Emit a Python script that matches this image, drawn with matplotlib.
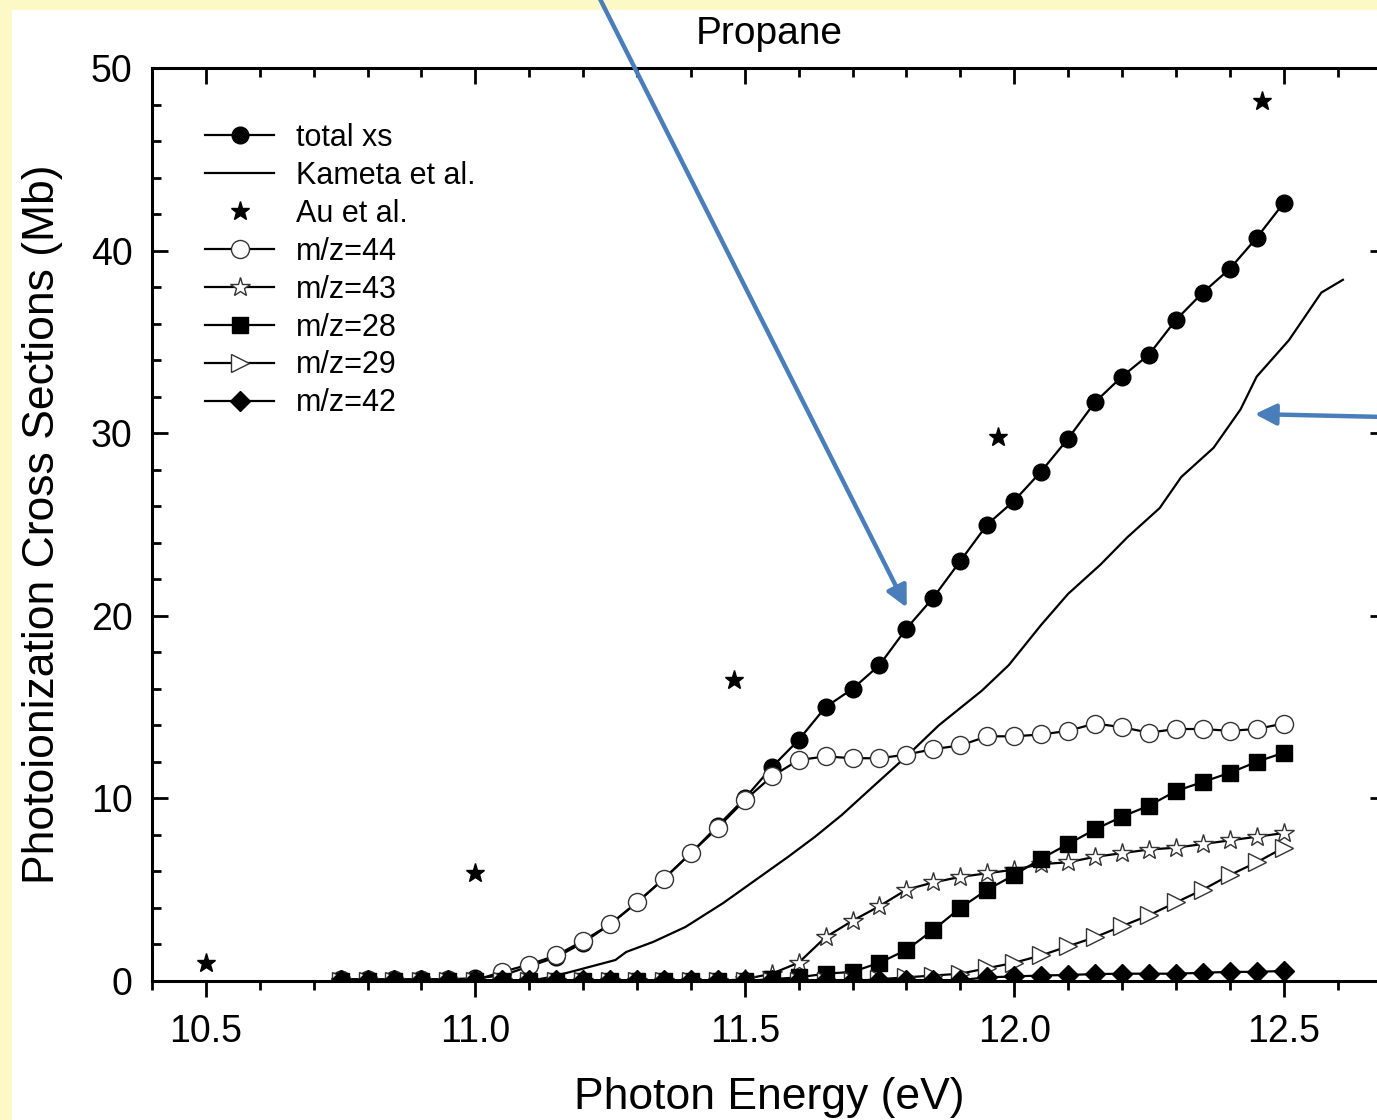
import numpy as np
import matplotlib.pyplot as plt
from matplotlib.patches import Rectangle
from matplotlib.ticker import MultipleLocator

plt.rcParams['font.family'] = ['Liberation Sans', 'DejaVu Sans']

# photon energy grid of the mass-resolved data (eV)
energy = [10.75, 10.80, 10.85, 10.90, 10.95, 11.00, 11.05, 11.10, 11.15, 11.20,
          11.25, 11.30, 11.35, 11.40, 11.45, 11.50, 11.55, 11.60, 11.65, 11.70,
          11.75, 11.80, 11.85, 11.90, 11.95, 12.00, 12.05, 12.10, 12.15, 12.20,
          12.25, 12.30, 12.35, 12.40, 12.45, 12.50]

total_xs = [0.1, 0.1, 0.1, 0.1, 0.1, 0.15, 0.3, 0.8, 1.3, 2.1,
            3.1, 4.3, 5.6, 7.0, 8.5, 10.0, 11.7, 13.2, 15.0, 16.0,
            17.3, 19.3, 21.0, 23.0, 25.0, 26.3, 27.9, 29.7, 31.7, 33.1,
            34.3, 36.2, 37.7, 39.0, 40.7, 42.6]

mz44 = [0.05, 0.05, 0.05, 0.05, 0.05, 0.05, 0.5, 0.9, 1.4, 2.2,
        3.1, 4.3, 5.6, 7.0, 8.4, 9.9, 11.2, 12.1, 12.3, 12.2,
        12.2, 12.4, 12.7, 12.9, 13.4, 13.4, 13.5, 13.7, 14.1, 13.9,
        13.6, 13.8, 13.8, 13.7, 13.8, 14.1]

mz43 = [0, 0, 0, 0, 0, 0, 0, 0, 0, 0,
        0, 0, 0, 0, 0, 0.1, 0.4, 1.0, 2.4, 3.3,
        4.1, 5.0, 5.4, 5.7, 5.9, 6.1, 6.4, 6.5, 6.8, 7.0,
        7.2, 7.3, 7.5, 7.7, 7.9, 8.1]

mz28 = [0, 0, 0, 0, 0, 0, 0, 0, 0, 0,
        0, 0, 0, 0, 0, 0, 0.1, 0.2, 0.4, 0.5,
        1.0, 1.7, 2.8, 4.0, 5.0, 5.8, 6.7, 7.5, 8.3, 9.0,
        9.6, 10.4, 10.9, 11.4, 12.0, 12.5]

mz29 = [0, 0, 0, 0, 0, 0, 0, 0, 0, 0,
        0, 0, 0, 0, 0, 0, 0, 0, 0, 0,
        0.1, 0.2, 0.3, 0.4, 0.7, 1.0, 1.4, 1.9, 2.4, 3.0,
        3.6, 4.3, 5.0, 5.8, 6.5, 7.3]

mz42 = [0.05, 0.05, 0.05, 0.05, 0.05, 0.05, 0.05, 0.05, 0.05, 0.05,
        0.05, 0.05, 0.05, 0.05, 0.05, 0.05, 0.05, 0.05, 0.05, 0.05,
        0.05, 0.05, 0.05, 0.05, 0.2, 0.25, 0.3, 0.33, 0.38, 0.4,
        0.4, 0.4, 0.45, 0.5, 0.5, 0.55]

# Kameta et al. curve
kameta_e = [11.10, 11.14, 11.19, 11.26, 11.28, 11.33, 11.39, 11.46, 11.52, 11.58,
            11.63, 11.68, 11.74, 11.80, 11.86, 11.94, 11.99, 12.05, 12.10, 12.16,
            12.21, 12.27, 12.31, 12.37, 12.42, 12.45, 12.51, 12.57, 12.61]
kameta_xs = [0.0, 0.22, 0.6, 1.15, 1.59, 2.14, 2.96, 4.27, 5.53, 6.79,
             7.89, 9.09, 10.7, 12.3, 14.0, 15.9, 17.3, 19.5, 21.2, 22.8,
             24.3, 25.9, 27.6, 29.2, 31.3, 33.1, 35.1, 37.7, 38.4]

# Au et al. points
au_e = [10.50, 11.00, 11.48, 11.97, 12.46]
au_xs = [1.0, 5.9, 16.5, 29.8, 48.2]

W, H = 1377, 1120
fig = plt.figure(figsize=(W / 100, H / 100), dpi=100)
fig.patch.set_facecolor('#fcf9c6')
fig.patches.append(Rectangle((12 / W, 0), 1, 1 - 10 / H, transform=fig.transFigure,
                             facecolor='white', edgecolor='none', zorder=-5))

ax = fig.add_axes([152 / W, (H - 981) / H, (1386 - 152) / W, (981 - 68) / H])

lw = 1.6
ax.plot(energy, total_xs, '-o', color='black', lw=lw, ms=12, label='total xs')
ax.plot(kameta_e, kameta_xs, '-', color='black', lw=lw, label='Kameta et al.')
ax.plot(au_e, au_xs, '*', color='black', ms=14, ls='none', label='Au et al.')
ax.plot(energy, mz44, '-o', color='black', lw=lw, ms=13, mfc='white', mec='#333333',
        mew=1.0, label='m/z=44')
ax.plot(energy, mz43, '-*', color='black', lw=lw, ms=15, mfc='white', mec='#333333',
        mew=1.0, label='m/z=43')
ax.plot(energy, mz28, '-s', color='black', lw=lw, ms=11, label='m/z=28')
ax.plot(energy, mz29, '->', color='black', lw=lw, ms=13, mfc='white', mec='#333333',
        mew=1.0, label='m/z=29')
ax.plot(energy, mz42, '-D', color='black', lw=lw, ms=10, label='m/z=42')

ax.set_xlim(10.4, 12.69)
ax.set_ylim(0, 50)
ax.xaxis.set_major_locator(MultipleLocator(0.5))
ax.xaxis.set_minor_locator(MultipleLocator(0.1))
ax.yaxis.set_major_locator(MultipleLocator(10))
ax.yaxis.set_minor_locator(MultipleLocator(2))
ax.set_xticks([10.5, 11.0, 11.5, 12.0, 12.5])
ax.set_xticklabels(['10.5', '11.0', '11.5', '12.0', '12.5'])

for s in ax.spines.values():
    s.set_linewidth(2.2)
ax.tick_params(axis='x', which='both', direction='out', top=False, labelsize=27, pad=12, width=2)
ax.tick_params(axis='y', which='both', direction='in', right=True, labelsize=27, pad=14, width=2)
ax.tick_params(which='major', length=11.5)
ax.tick_params(which='minor', length=6.5)
# top axis with inward ticks
top = ax.secondary_xaxis('top')
top.xaxis.set_major_locator(MultipleLocator(0.5))
top.xaxis.set_minor_locator(MultipleLocator(0.1))
top.tick_params(which='both', direction='in', labeltop=False, width=2)
top.tick_params(which='major', length=11.5)
top.tick_params(which='minor', length=6.5)

ax.set_title('Propane', fontsize=28, pad=17)
ax.set_xlabel('Photon Energy (eV)', fontsize=32, labelpad=20)
ax.set_ylabel('Photoionization Cross Sections (Mb)', fontsize=32, labelpad=20)

ax.legend(loc='upper left', bbox_to_anchor=(0.043, 0.94), frameon=False, fontsize=22,
          handlelength=2.26, handletextpad=0.7, labelspacing=0.26, borderpad=0,
          borderaxespad=0)

arrow_kw = dict(arrowstyle='-|>', color='#4a7ebb', lw=3.2, mutation_scale=32)
ax.annotate('', xy=(908, H - 610), xycoords='figure pixels',
            xytext=(598, H + 5), textcoords='figure pixels',
            arrowprops=arrow_kw, annotation_clip=False)
ax.annotate('', xy=(1252, H - 414), xycoords='figure pixels',
            xytext=(1385, H - 417), textcoords='figure pixels',
            arrowprops=arrow_kw, annotation_clip=False)

fig.savefig('out.png', dpi=100)
